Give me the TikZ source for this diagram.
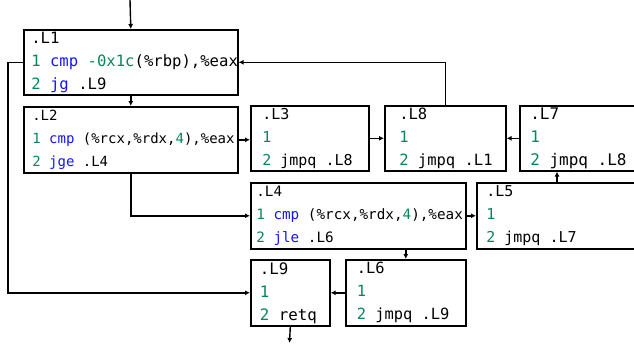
\documentclass[tikz,border=0pt]{standalone}
\usepackage{fontspec}
\setmonofont{DejaVu Sans Mono}
\usetikzlibrary{arrows.meta}
\definecolor{numgreen}{RGB}{9,134,88}
\definecolor{kwblue}{RGB}{20,20,255}
\newcommand\numc[1]{\textcolor{numgreen}{#1}}
\newcommand\kwc[1]{\textcolor{kwblue}{#1}}
\newcommand\codesp{\hspace*{0.602em}}
\newcommand\codefont[1]{\ttfamily\fontsize{#1}{23}\selectfont}
\tikzset{
  blk/.style n args={4}{draw, line width=1.6pt, anchor=north west, inner xsep=#4pt, inner ysep=0pt,
    minimum width=#1pt, minimum height=#2pt, text width=#1pt-2*#4pt, align=left,
    font=\codefont{#3}},
  arr/.style={line width=1.4pt, -{Latex[length=5pt,width=5pt]}},
}
\begin{document}
\begin{tikzpicture}[x=1pt,y=-1pt]
\useasboundingbox (0,0) rectangle (634,343);
\clip (0,0) rectangle (634,343);
\node[blk={214}{65}{15.6}{7.5}] (L1) at (23,29) {.L1\\\mbox{\numc{1}\codesp\kwc{cmp}\codesp\numc{-0x1c}(\%rbp),\%eax}\\\mbox{\numc{2}\codesp\kwc{jg}\codesp.L9}};
\node[blk={214}{66}{14}{8.5}] (L2) at (23,106) {.L2\\\mbox{\numc{1}\codesp\kwc{cmp}\codesp(\%rcx,\%rdx,\numc{4}),\%eax}\\\mbox{\numc{2}\codesp\kwc{jge}\codesp.L4}};
\node[blk={118}{65}{15}{11.5}] (L3) at (250,105) {.L3\\\numc{1}\\\mbox{\numc{2}\codesp jmpq\codesp.L8}};
\node[blk={121}{65}{15.5}{14.5}] (L8) at (384,105) {.L8\\\numc{1}\\\mbox{\numc{2}\codesp jmpq\codesp.L1}};
\node[blk={140}{65}{16}{10.5}] (L7) at (519,105) {.L7\\\numc{1}\\\mbox{\numc{2}\codesp jmpq\codesp.L8}};
\node[blk={215}{66}{14.3}{5.5}] (L4) at (250,182) {.L4\\\mbox{\numc{1}\codesp\kwc{cmp}\codesp(\%rcx,\%rdx,\numc{4}),\%eax}\\\mbox{\numc{2}\codesp\kwc{jle}\codesp.L6}};
\node[blk={180}{66}{15}{9.5}] (L5) at (476,182) {.L5\\\numc{1}\\\mbox{\numc{2}\codesp jmpq\codesp.L7}};
\node[blk={79}{66}{15.8}{9}] (L9) at (250,259) {.L9\\\numc{1}\\\mbox{\numc{2}\codesp retq}};
\node[blk={120}{66}{15.4}{11}] (L6) at (345,259) {.L6\\\numc{1}\\\mbox{\numc{2}\codesp jmpq\codesp.L9}};
\coordinate (in) at (130,0);
\coordinate (out) at (289.5,343);
\coordinate (l5up) at (557,182);
\draw[arr] (in) -- (L1.north);
\draw[arr] (L1.south) -- (L2.north);
\draw[arr] (L1.west) -- ++(-15,0) |- (L9.west);
\draw[arr] (L8.north) |- (L1.east);
\draw[arr] (L2.east) -- (L3.west |- L2.east);
\draw[arr] (L3.east) -- (L8.west);
\draw[arr] (L7.west) -- (L8.east);
\draw[arr] (L2.south) |- (L4.west);
\draw[arr] (L4.east) -- (L5.west);
\draw[arr] (l5up) -- (l5up |- L7.south);
\draw[arr] (L6.north |- L4.south) -- (L6.north);
\draw[arr] (L6.west) -- (L9.east);
\draw[arr] (L9.south) -- (out);
\end{tikzpicture}
\end{document}
